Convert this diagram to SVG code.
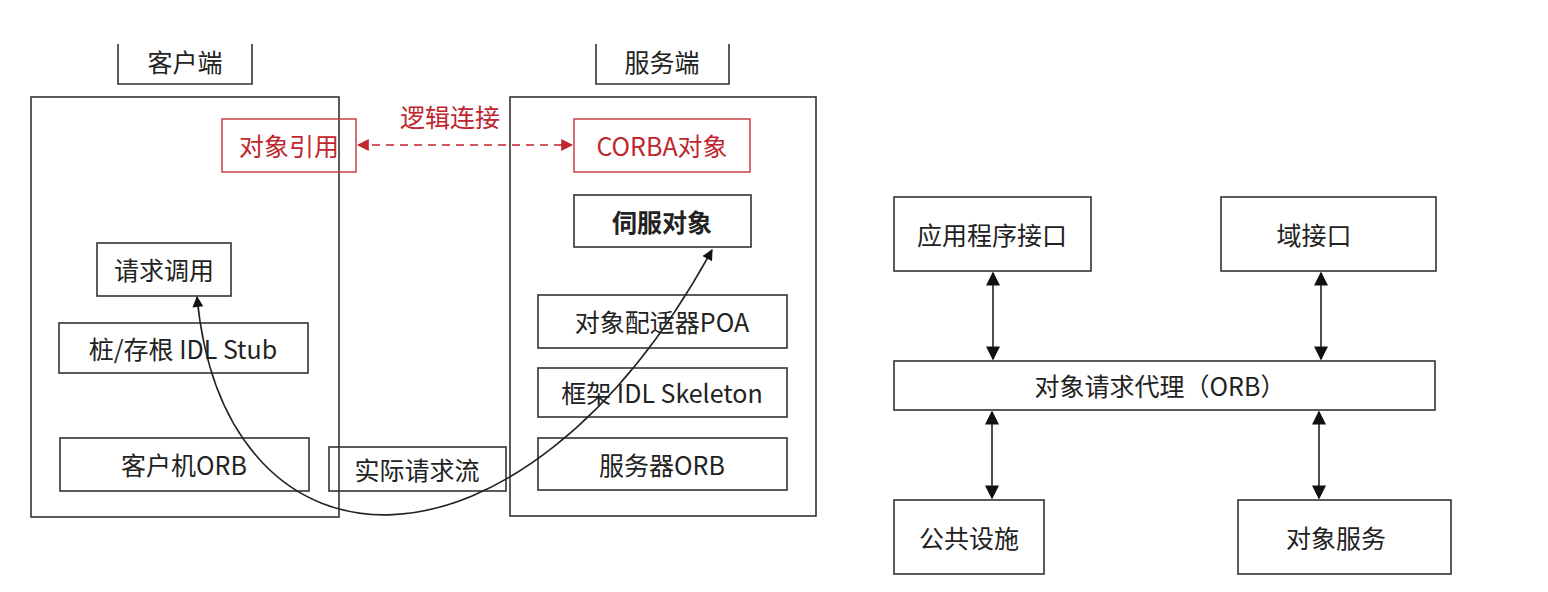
<svg xmlns="http://www.w3.org/2000/svg" width="1548" height="592" viewBox="0 0 1548 592">
<style>
.b{fill:none;stroke:#333;stroke-width:1.6}
.r{fill:none;stroke:#c8323a;stroke-width:1.4}
.t{font-family:"Noto Sans CJK SC","Liberation Sans",sans-serif;font-size:25px;fill:#222;text-anchor:middle;dominant-baseline:central}
.tr{fill:#c0262d}
.c{fill:none;stroke:#222;stroke-width:1.6}
</style>
<defs>
<marker id="a" viewBox="0 0 10 10" refX="9" refY="5" markerWidth="12" markerHeight="11" markerUnits="userSpaceOnUse" orient="auto-start-reverse"><path d="M0,0 L10,5 L0,10 z" fill="#111"/></marker>
<marker id="ar" viewBox="0 0 10 10" refX="9" refY="5" markerWidth="12" markerHeight="12" markerUnits="userSpaceOnUse" orient="auto-start-reverse"><path d="M0,0 L10,5 L0,10 z" fill="#c0262d"/></marker>
<marker id="a2" viewBox="0 0 10 10" refX="9" refY="5" markerWidth="16" markerHeight="14" markerUnits="userSpaceOnUse" orient="auto-start-reverse"><path d="M0,0 L10,5 L0,10 z" fill="#111"/></marker>
</defs>
<rect width="1548" height="592" fill="#fff"/>
<g id="client-tab"><path class="b" d="M118,44 V84 H252 V44"/><text class="t" x="185" y="61">客户端</text></g>
<g id="server-tab"><path class="b" d="M596,44 V84 H729 V44"/><text class="t" x="662" y="61">服务端</text></g>
<g id="client"><rect class="b" x="31" y="97" width="308" height="420"/></g>
<g id="server"><rect class="b" x="510" y="97" width="306" height="419"/></g>
<g id="obj-ref"><rect class="r" x="222" y="119" width="134" height="53"/><text class="t tr" x="289" y="145">对象引用</text></g>
<g id="corba-obj"><rect class="r" x="574" y="119" width="176" height="53"/><text class="t tr" x="662" y="145">CORBA对象</text></g>
<g id="servant"><rect class="b" x="574" y="195" width="177" height="52"/><text class="t" x="662" y="221" font-weight="bold">伺服对象</text></g>
<g id="invoke"><rect class="b" x="97" y="243" width="134" height="53"/><text class="t" x="164" y="269">请求调用</text></g>
<g id="stub"><rect class="b" x="59" y="323" width="249" height="50"/><text class="t" x="183" y="348">桩/存根 IDL Stub</text></g>
<g id="client-orb"><rect class="b" x="60" y="438" width="249" height="53"/><text class="t" x="184" y="464">客户机ORB</text></g>
<g id="flow"><rect class="b" x="329" y="447" width="177" height="44"/><text class="t" x="417" y="469" font-size="21">实际请求流</text></g>
<g id="poa"><rect class="b" x="538" y="295" width="249" height="53"/><text class="t" x="662" y="321">对象配适器POA</text></g>
<g id="skeleton"><rect class="b" x="538" y="368" width="249" height="49"/><text class="t" x="662" y="392">框架 IDL Skeleton</text></g>
<g id="server-orb"><rect class="b" x="538" y="438" width="249" height="52"/><text class="t" x="662" y="464">服务器ORB</text></g>
<g id="api"><rect class="b" x="894" y="197" width="197" height="74"/><text class="t" x="992" y="234" font-size="27">应用程序接口</text></g>
<g id="domain"><rect class="b" x="1221" y="197" width="215" height="74"/><text class="t" x="1314" y="234" font-size="27">域接口</text></g>
<g id="orb"><rect class="b" x="894" y="361" width="541" height="49"/><text class="t" x="1160" y="385" font-size="27">对象请求代理（ORB）</text></g>
<g id="facilities"><rect class="b" x="894" y="500" width="150" height="74"/><text class="t" x="969" y="537" font-size="27">公共设施</text></g>
<g id="services"><rect class="b" x="1238" y="500" width="213" height="74"/><text class="t" x="1336" y="537" font-size="27">对象服务</text></g>
<g id="connectors">
<path d="M358,145 H572" fill="none" stroke="#c0262d" stroke-width="1.4" stroke-dasharray="8,6" marker-start="url(#ar)" marker-end="url(#ar)"/>
<text class="t tr" x="450" y="116" font-size="21">逻辑连接</text>
<path class="c" d="M197,297 C225,590 520,600 712,250" marker-start="url(#a)" marker-end="url(#a)"/>
<path class="c" d="M993,273 V359" marker-start="url(#a2)" marker-end="url(#a2)"/>
<path class="c" d="M1321,273 V359" marker-start="url(#a2)" marker-end="url(#a2)"/>
<path class="c" d="M992,412 V498" marker-start="url(#a2)" marker-end="url(#a2)"/>
<path class="c" d="M1319,412 V498" marker-start="url(#a2)" marker-end="url(#a2)"/>
</g>
</svg>
